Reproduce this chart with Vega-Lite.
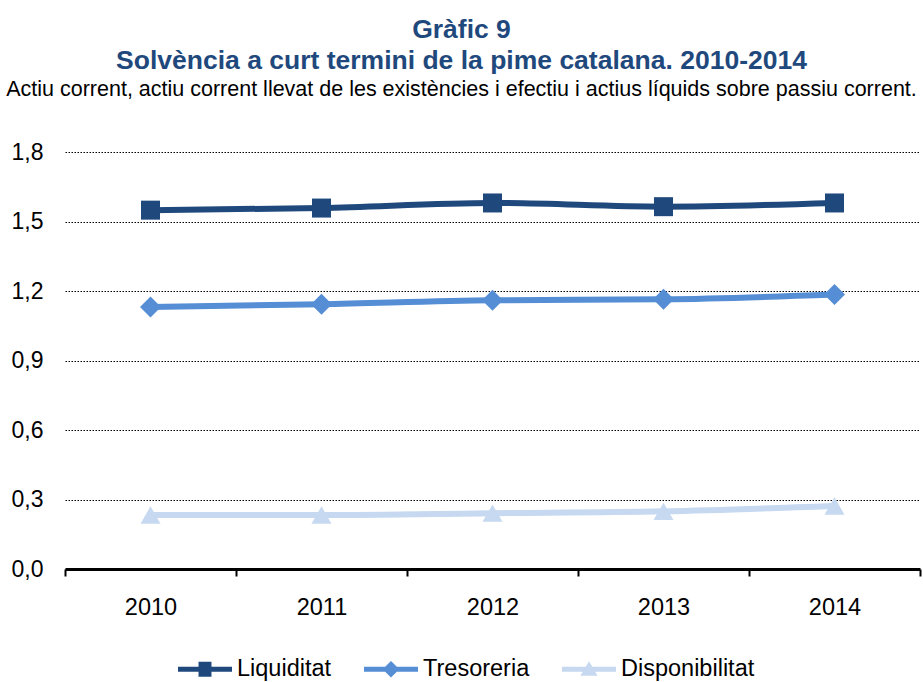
{
  "$schema": "https://vega.github.io/schema/vega-lite/v6.json",
  "width": 855,
  "height": 417,
  "autosize": "none",
  "padding": {"left": 65, "top": 152, "right": 3, "bottom": 113},
  "background": "white",
  "config": {"view": {"stroke": null}, "font": "Liberation Sans"},
  "title": {
    "text": ["Gràfic 9", "Solvència a curt termini de la pime catalana. 2010-2014"],
    "subtitle": "Actiu corrent, actiu corrent llevat de les existències i efectiu i actius líquids sobre passiu corrent.",
    "anchor": "middle",
    "dx": -31,
    "font": "Liberation Sans",
    "fontSize": 26.5,
    "fontWeight": "bold",
    "color": "#1F497D",
    "lineHeight": 31,
    "subtitleFont": "Liberation Sans",
    "subtitleFontSize": 21.5,
    "subtitleColor": "#000000",
    "subtitlePadding": 4,
    "offset": 41
  },
  "data": {
    "values": [
      {"year": "2010", "series": "Liquiditat", "value": 1.549},
      {"year": "2011", "series": "Liquiditat", "value": 1.558},
      {"year": "2012", "series": "Liquiditat", "value": 1.580},
      {"year": "2013", "series": "Liquiditat", "value": 1.564},
      {"year": "2014", "series": "Liquiditat", "value": 1.580},
      {"year": "2010", "series": "Tresoreria", "value": 1.131},
      {"year": "2011", "series": "Tresoreria", "value": 1.143},
      {"year": "2012", "series": "Tresoreria", "value": 1.160},
      {"year": "2013", "series": "Tresoreria", "value": 1.164},
      {"year": "2014", "series": "Tresoreria", "value": 1.185},
      {"year": "2010", "series": "Disponibilitat", "value": 0.233},
      {"year": "2011", "series": "Disponibilitat", "value": 0.233},
      {"year": "2012", "series": "Disponibilitat", "value": 0.241},
      {"year": "2013", "series": "Disponibilitat", "value": 0.249},
      {"year": "2014", "series": "Disponibilitat", "value": 0.272}
    ]
  },
  "encoding": {
    "x": {
      "field": "year",
      "type": "ordinal",
      "scale": {"paddingInner": 0, "paddingOuter": 0},
      "axis": {
        "title": null,
        "labelAngle": 0,
        "labelFont": "Liberation Sans",
        "labelFontSize": 23.5,
        "labelColor": "#000000",
        "labelPadding": 19,
        "domainColor": "#000000",
        "domainWidth": 3,
        "tickColor": "#000000",
        "tickWidth": 2,
        "tickSize": 7,
        "tickBand": "extent",
        "zindex": 1
      }
    },
    "y": {
      "field": "value",
      "type": "quantitative",
      "scale": {"domain": [0, 1.8], "nice": false},
      "axis": {
        "title": null,
        "values": [0, 0.3, 0.6, 0.9, 1.2, 1.5, 1.8],
        "labelExpr": "replace(format(datum.value, '.1f'), '.', ',')",
        "labelFont": "Liberation Sans",
        "labelFontSize": 23,
        "labelColor": "#000000",
        "labelPadding": 22,
        "domain": false,
        "ticks": false,
        "grid": true,
        "gridColor": "#000000",
        "gridDash": [1.5, 1.5],
        "gridWidth": 1
      }
    },
    "color": {
      "field": "series",
      "type": "nominal",
      "scale": {
        "domain": ["Liquiditat", "Tresoreria", "Disponibilitat"],
        "range": ["#1F497D", "#558ED5", "#C6D9F1"]
      }
    }
  },
  "layer": [
    {
      "mark": {"type": "line", "strokeWidth": 6, "interpolate": "monotone"},
      "encoding": {
        "color": {
          "field": "series",
          "type": "nominal",
          "legend": {
            "orient": "none",
            "legendX": 113,
            "legendY": 490,
            "direction": "horizontal",
            "title": null,
            "labelFont": "Liberation Sans",
            "labelFontSize": 23.5,
            "labelColor": "#000000",
            "labelOffset": 5,
            "columnPadding": 32,
            "symbolSize": 2916,
            "encode": {
              "symbols": {
                "update": {
                  "shape": {"signal": "datum.value === 'Liquiditat' ? 'M-1,-0.093 H1 V0.093 H-1 Z M-0.24,-0.28 H0.24 V0.28 H-0.24 Z' : datum.value === 'Tresoreria' ? 'M-1,-0.093 H1 V0.093 H-1 Z M0,-0.31 L0.31,0 L0,0.31 L-0.31,0 Z' : 'M-1,-0.093 H1 V0.093 H-1 Z M0,-0.3 L0.32,0.24 L-0.32,0.24 Z'"},
                  "fill": {"signal": "datum.value === 'Liquiditat' ? '#1F497D' : datum.value === 'Tresoreria' ? '#558ED5' : '#C6D9F1'"},
                  "stroke": {"value": "transparent"},
                  "strokeWidth": {"value": 0},
                  "fillOpacity": {"value": 1},
                  "opacity": {"value": 1}
                }
              }
            }
          }
        }
      }
    },
    {
      "transform": [{"filter": "datum.series === 'Liquiditat'"}],
      "mark": {"type": "point", "filled": true, "opacity": 1, "shape": "square", "size": 361},
      "encoding": {"color": {"field": "series", "type": "nominal", "legend": null}}
    },
    {
      "transform": [{"filter": "datum.series === 'Tresoreria'"}],
      "mark": {"type": "point", "filled": true, "opacity": 1, "shape": "diamond", "size": 441},
      "encoding": {"color": {"field": "series", "type": "nominal", "legend": null}}
    },
    {
      "transform": [{"filter": "datum.series === 'Disponibilitat'"}],
      "mark": {"type": "point", "filled": true, "opacity": 1, "shape": "triangle-up", "size": 400},
      "encoding": {"color": {"field": "series", "type": "nominal", "legend": null}}
    }
  ]
}
